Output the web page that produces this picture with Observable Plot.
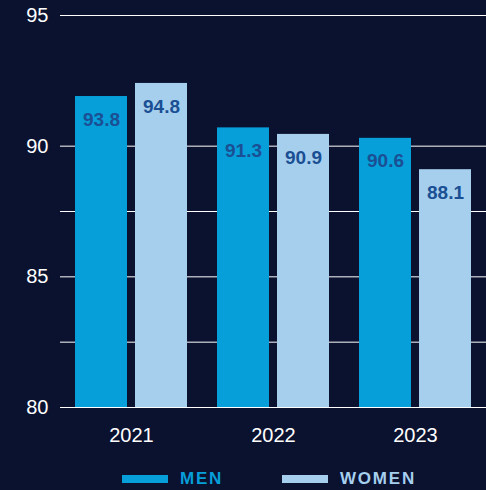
<!DOCTYPE html>
<html>
<head>
<meta charset="utf-8">
<script src="https://cdn.jsdelivr.net/npm/d3@7"></script>
<script src="https://cdn.jsdelivr.net/npm/@observablehq/plot@0.6"></script>
<style>
  html, body { margin: 0; padding: 0; background: #0a1230; }
  body { width: 486px; height: 490px; position: relative; overflow: hidden; font-family: "Liberation Sans", Arial, Helvetica, sans-serif; }
  #chart svg { display: block; }
  .legend { position: absolute; left: 0; top: 467px; width: 486px; height: 24px; }
  .sw { position: absolute; top: 8px; width: 46px; height: 8px; }
  .lb { position: absolute; top: 0; font-size: 17px; font-weight: bold; letter-spacing: 1.8px; line-height: 24px; }
</style>
</head>
<body>
<div id="chart"></div>
<div class="legend" id="legend"></div>
<script>
const years = ["2021", "2022", "2023"];
const sexes = ["MEN", "WOMEN"];
// bar heights as drawn in the picture
const menBar = [91.9, 90.7, 90.3];
const womenBar = [92.4, 90.45, 89.1];
// printed value labels
const menLabel = ["93.8", "91.3", "90.6"];
const womenLabel = ["94.8", "90.9", "88.1"];
const yTicks = [80, 85, 90, 95];
const gridLines = [80, 82.5, 85, 87.5, 90, 95];
const colors = ["#069fda", "#a6cfee"];

const data = [];
years.forEach((y, i) => {
  data.push({year: y, sex: sexes[0], value: menBar[i], label: menLabel[i]});
  data.push({year: y, sex: sexes[1], value: womenBar[i], label: womenLabel[i]});
});

const chart = Plot.plot({
  width: 486,
  height: 455,
  marginLeft: 60,
  marginRight: 0,
  marginTop: 15,
  marginBottom: 48,
  style: {background: "transparent", color: "#ffffff", fontFamily: "'Liberation Sans', Arial, Helvetica, sans-serif", fontSize: "20px"},
  fx: {domain: years, padding: 0, label: null, tickSize: 0, tickPadding: 20, axis: "bottom"},
  x: {domain: sexes, paddingInner: 0.131, paddingOuter: 0.23, axis: null},
  y: {domain: [80, 95], ticks: yTicks, tickSize: 0, tickPadding: 12, label: null, tickFormat: d => String(d)},
  color: {domain: sexes, range: colors},
  marks: [
    Plot.ruleY(gridLines, {stroke: "#ffffff", strokeWidth: 1}),
    Plot.barY(data, {fx: "year", x: "sex", y1: 80, y2: "value", fill: "sex"}),
    Plot.text(data, {fx: "year", x: "sex", y: "value", text: "label", dy: 23, fill: "#1b4f94", fontWeight: "bold", fontSize: 19})
  ]
});
document.getElementById("chart").appendChild(chart);

const legend = document.getElementById("legend");
const swX = [122, 282];
sexes.forEach((s, i) => {
  const sw = document.createElement("div");
  sw.className = "sw";
  sw.style.left = swX[i] + "px";
  sw.style.background = colors[i];
  legend.appendChild(sw);
  const lb = document.createElement("div");
  lb.className = "lb";
  lb.style.left = (swX[i] + 58) + "px";
  lb.style.color = colors[i];
  lb.textContent = s;
  legend.appendChild(lb);
});
</script>
</body>
</html>
